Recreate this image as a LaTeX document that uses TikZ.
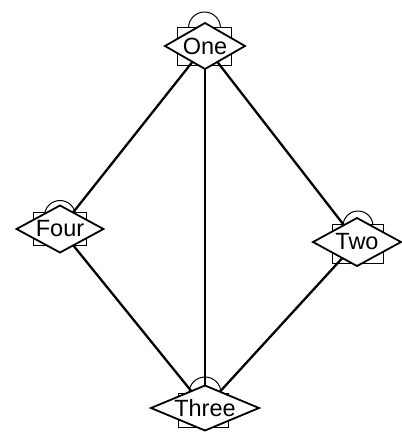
\documentclass[tikz,border=0pt]{standalone}
\usepackage{fontspec}
\setmainfont{Liberation Sans}
\usetikzlibrary{shapes.geometric,backgrounds}
\tikzset{
  loopc/.style={circle, draw, line width=1pt, inner sep=0pt, outer sep=0pt},
  sqbox/.style={rectangle, draw, fill=white, line width=1pt, inner sep=0pt, outer sep=0pt},
  dnode/.style={diamond, draw, fill=white, line width=1.8pt, inner sep=0pt, outer sep=0pt,
     font=\fontsize{23.5}{27}\selectfont},
  edge/.style={line width=2.3pt}
}
\begin{document}
\begin{tikzpicture}[x=1pt,y=-1pt]
\useasboundingbox (0,0) rectangle (402,432);
% self-loop arcs
\node[loopc, minimum size=32pt] (c1) at (204.5,28) {};
\node[loopc, minimum size=31pt] (c4) at (60,216) {};
\node[loopc, minimum size=30pt] (c2) at (358,226) {};
\node[loopc, minimum size=32pt] (c3) at (205,393) {};
% squares
\node[sqbox, minimum width=54pt, minimum height=38pt] (s1) at (204,46) {};
\node[sqbox, minimum width=53pt, minimum height=33pt] (s4) at (59.5,228.5) {};
\node[sqbox, minimum width=51pt, minimum height=39pt] (s2) at (357.5,243.5) {};
\node[sqbox, minimum width=50pt, minimum height=34pt] (s3) at (203,410) {};
% diamonds
\node[dnode, shape aspect=1.9, minimum width=80pt, minimum height=46pt] (one) at (205,46) {One};
\node[dnode, shape aspect=1.9, minimum width=87pt, minimum height=47pt] (four) at (60,229) {Four};
\node[dnode, shape aspect=1.9, minimum width=88pt, minimum height=48pt] (two) at (357,242) {Two};
\node[dnode, shape aspect=2.4, minimum width=108pt, minimum height=45pt] (three) at (205,408) {Three};
% edges
\draw[edge] (one) -- (four);
\draw[edge] (one) -- (two);
\draw[edge] (one) -- (three);
\draw[edge] (four) -- (three);
\draw[edge] (two) -- (three);
\end{tikzpicture}
\end{document}
